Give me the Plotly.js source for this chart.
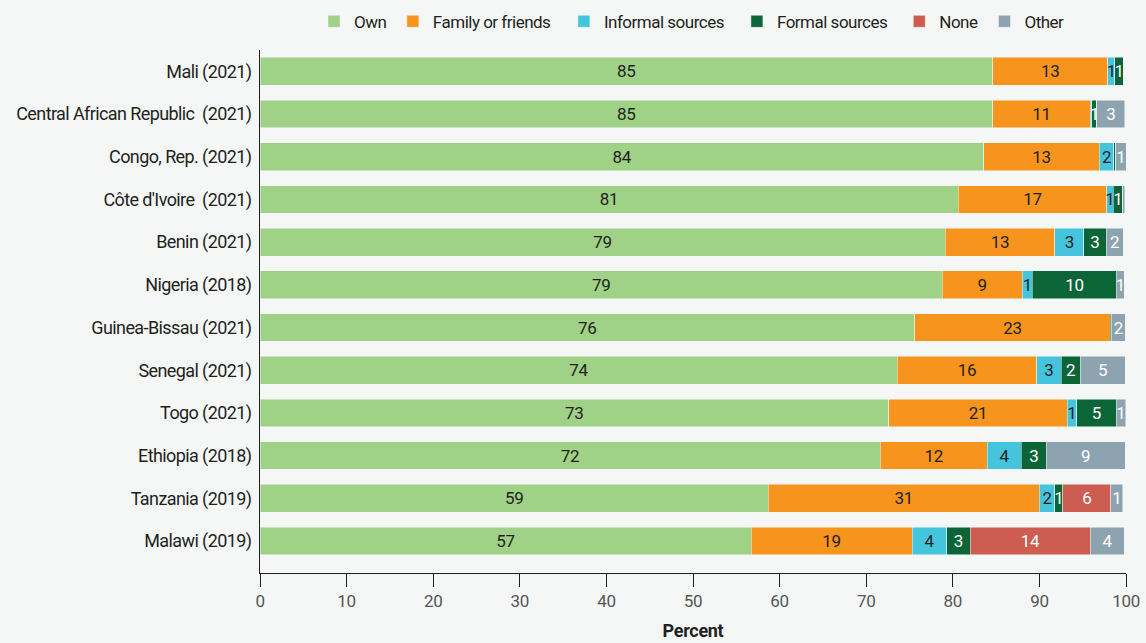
<!DOCTYPE html>
<html><head><meta charset="utf-8">
<script src="https://cdn.plot.ly/plotly-3.0.1.min.js"></script>
<style>html,body{margin:0;padding:0;background:#f4f7f6;}#chart{width:1146px;height:643px;}
#chart svg text{letter-spacing:-0.3px;}
#chart .ytick text{letter-spacing:-0.6px;}
#chart .legend text{letter-spacing:-0.5px;}</style>
</head><body><div id="chart"></div>
<script>
const countries = ["Mali (2021)","Central African Republic\u00a0 (2021)","Congo, Rep. (2021)","Côte d'Ivoire\u00a0 (2021)","Benin (2021)","Nigeria (2018)","Guinea-Bissau (2021)","Senegal (2021)","Togo (2021)","Ethiopia (2018)","Tanzania (2019)","Malawi (2019)"];
const own      = [84.6, 84.6, 83.6, 80.6, 79.1, 78.8, 75.6, 73.6, 72.6, 71.6, 58.7, 56.7];
const family   = [13.3, 11.3, 13.3, 17.2, 12.7, 9.2, 22.6, 16.1, 20.6, 12.4, 31.3, 18.6];
const informal = [0.8, 0.15, 1.7, 0.7, 3.3, 1.2, 0, 2.8, 1.1, 3.9, 1.8, 4.0];
const formal   = [1.0, 0.6, 0.2, 1.1, 2.6, 9.7, 0.12, 2.2, 4.55, 2.9, 0.9, 2.7];
const none     = [0, 0, 0, 0, 0, 0, 0, 0, 0, 0, 5.55, 13.9];
const other    = [0, 3.2, 1.2, 0.25, 2.0, 0.9, 1.6, 5.2, 1.1, 9.1, 1.4, 3.9];
const seriesNames = ["Own","Family or friends","Informal sources","Formal sources","None","Other"];

const FONT = "Roboto, 'Liberation Sans', sans-serif";
const colors = ["#9fd186","#f7941e","#45c4dd","#0b6536","#cd5c51","#8da3af"];
const textColors = ["#231f20","#231f20","#231f20","#ffffff","#ffffff","#ffffff"];
const allValues = [own, family, informal, formal, none, other];

const traces = allValues.map((vals, i) => ({
  type: 'bar', orientation: 'h', name: seriesNames[i],
  y: countries, x: vals,
  text: vals.map(v => Math.round(v) >= 1 ? String(Math.round(v)) : ''),
  textposition: 'inside', insidetextanchor: 'middle', textangle: 0,
  textfont: {family: FONT, size: 17, color: textColors[i]},
  marker: {color: colors[i], line: {color: '#f4f7f6', width: 0.5}},
  hoverinfo: 'x+name'
}));

const layout = {
  width: 1146, height: 643,
  barmode: 'stack', bargap: 0.35,
  paper_bgcolor: '#f4f7f6', plot_bgcolor: '#f4f7f6',
  margin: {l: 260, r: 20, t: 50, b: 70, autoexpand: false},
  font: {family: FONT, color: '#231f20'},
  uniformtext: {minsize: 17, mode: 'show'},
  showlegend: true,
  legend: {orientation: 'h', x: 0.5, xanchor: 'center', y: 1.054, yanchor: 'middle', yref: 'paper',
           font: {family: FONT, size: 17, color: '#231f20'}, traceorder: 'normal',
           itemwidth: 30, bgcolor: 'rgba(0,0,0,0)'},
  xaxis: {range: [0, 100], dtick: 10, showgrid: false, zeroline: false,
          showline: true, linecolor: '#231f20', linewidth: 1,
          ticks: 'outside', ticklen: 13, tickcolor: '#231f20',
          tickfont: {family: FONT, size: 17, color: '#555'},
          title: {text: '<b>Percent</b>', font: {family: FONT, size: 18, color: '#231f20'}, standoff: 13}},
  yaxis: {type: 'category', categoryorder: 'array', categoryarray: countries,
          range: [11.75, -0.5], showgrid: false, zeroline: false,
          showline: true, linecolor: '#231f20', linewidth: 1, ticks: '',
          ticklabelstandoff: 4,
          tickfont: {family: FONT, size: 18, color: '#231f20'}}
};
Plotly.newPlot('chart', traces, layout, {displayModeBar: false, staticPlot: true});
</script></body></html>
